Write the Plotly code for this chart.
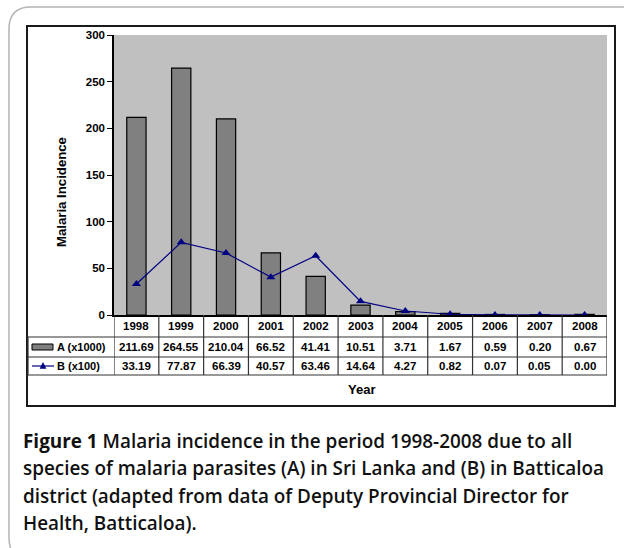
import plotly.graph_objects as go

years = ["1998", "1999", "2000", "2001", "2002", "2003", "2004", "2005", "2006", "2007", "2008"]
series_a = [211.69, 264.55, 210.04, 66.52, 41.41, 10.51, 3.71, 1.67, 0.59, 0.20, 0.67]
series_b = [33.19, 77.87, 66.39, 40.57, 63.46, 14.64, 4.27, 0.82, 0.07, 0.05, 0.00]
label_a = "A (x1000)"
label_b = "B (x100)"
y_title = "Malaria Incidence"
x_title = "Year"
caption_lines = [
    "<b>Figure 1</b> Malaria incidence in the period 1998-2008 due to all",
    "species of malaria parasites (A) in Sri Lanka and (B) in Batticaloa",
    "district (adapted from data of Deputy Provincial Director for",
    "Health, Batticaloa).",
]

W, H = 624, 548
PL, PR, PT, PB = 114, 607, 35, 315  # plot area pixels
pw, ph = PR - PL, PB - PT


def px(x):
    return (x - PL) / pw


def py(y):
    return (PB - y) / ph


ARIAL = "Arial, Liberation Sans, sans-serif"
fig = go.Figure()
fig.add_trace(go.Bar(x=years, y=series_a, name=label_a, marker=dict(color="#808080", line=dict(color="#000000", width=1.2)),
                     showlegend=False))
fig.add_trace(go.Scatter(x=years, y=series_b, name=label_b, mode="lines+markers",
                         line=dict(color="#000080", width=1.2),
                         marker=dict(symbol="triangle-up", size=8, color="#000080"), showlegend=False))

shapes = []
# outer rounded card
r = 22
x0, y0, x1, y1 = px(9), py(7), px(640), py(560)
rx, ry = r / pw, r / ph
shapes.append(dict(type="path", xref="paper", yref="paper",
                   path=f"M {x0} {y1 + ry} L {x0} {y0 - ry} Q {x0} {y0} {x0 + rx} {y0} L {x1} {y0} L {x1} {y1} L {x0 + rx} {y1} Q {x0} {y1} {x0} {y1 + ry} Z",
                   line=dict(color="#b4b4b4", width=1.5), layer="below"))
# chart frame
shapes.append(dict(type="rect", xref="paper", yref="paper", x0=px(27), x1=px(615), y0=py(26), y1=py(406),
                   line=dict(color="#1a1a1a", width=2), layer="below"))
# table horizontal lines
for yy in (337, 357, 375):
    shapes.append(dict(type="line", xref="paper", yref="paper", x0=px(28), x1=px(607), y0=py(yy), y1=py(yy),
                       line=dict(color="#333333", width=1.2)))
# left table edge
shapes.append(dict(type="line", xref="paper", yref="paper", x0=px(28), x1=px(28), y0=py(337), y1=py(375),
                   line=dict(color="#333333", width=1.2)))
# vertical category lines
for i in range(len(years) + 1):
    shapes.append(dict(type="line", xref="x", yref="paper", x0=i - 0.5, x1=i - 0.5, y0=py(315), y1=py(375),
                       line=dict(color="#333333", width=1.2)))
# legend symbols
shapes.append(dict(type="rect", xref="paper", yref="paper", x0=px(32), x1=px(53), y0=py(344), y1=py(350),
                   fillcolor="#808080", line=dict(color="#000000", width=1)))
shapes.append(dict(type="line", xref="paper", yref="paper", x0=px(32), x1=px(54), y0=py(366), y1=py(366),
                   line=dict(color="#000080", width=1.2)))
shapes.append(dict(type="path", xref="paper", yref="paper",
                   path=f"M {px(40)} {py(368.5)} L {px(46)} {py(368.5)} L {px(43)} {py(362.5)} Z",
                   fillcolor="#000080", line=dict(color="#000080", width=0.5)))

ann = []
tf = dict(family=ARIAL, size=11.5, color="#000000", weight="bold")
for i, yr in enumerate(years):
    ann.append(dict(x=i, y=py(326), xref="x", yref="paper", text=yr, showarrow=False, font=tf, yanchor="middle"))
    ann.append(dict(x=i, y=py(347), xref="x", yref="paper", text=f"{series_a[i]:.2f}", showarrow=False, font=tf,
                    yanchor="middle"))
    ann.append(dict(x=i, y=py(366), xref="x", yref="paper", text=f"{series_b[i]:.2f}", showarrow=False, font=tf,
                    yanchor="middle"))
lf = dict(family=ARIAL, size=11, color="#000000", weight="bold")
ann.append(dict(x=px(55), y=py(347), xref="paper", yref="paper", text=label_a, showarrow=False, font=lf,
                xanchor="left", yanchor="middle"))
ann.append(dict(x=px(55), y=py(366), xref="paper", yref="paper", text=label_b, showarrow=False, font=lf,
                xanchor="left", yanchor="middle"))
ann.append(dict(x=px(361), y=py(389), xref="paper", yref="paper", text=x_title, showarrow=False, yanchor="middle",
                font=dict(family=ARIAL, size=13, color="#000000", weight="bold")))
ann.append(dict(x=px(61), y=py(192), xref="paper", yref="paper", text=y_title, showarrow=False, textangle=-90,
                xanchor="center", yanchor="middle",
                font=dict(family=ARIAL, size=13.2, color="#000000", weight="bold")))
for k, line in enumerate(caption_lines):
    ann.append(dict(x=px(21), y=py(441 + k * 27.3), xref="paper", yref="paper", text=line, showarrow=False,
                    xanchor="left", yanchor="middle",
                    font=dict(family="Open Sans, sans-serif", size=18.9, color="#111111", weight=600)))

fig.update_layout(
    width=W, height=H,
    margin=dict(l=PL, r=W - PR, t=PT, b=H - PB, pad=0),
    paper_bgcolor="white", plot_bgcolor="#c0c0c0",
    bargap=0.57,
    shapes=shapes, annotations=ann,
    xaxis=dict(type="category", range=[-0.5, 10.5], showticklabels=False, ticks="", showline=True,
               linecolor="#000000", linewidth=1.5, showgrid=False, zeroline=False, fixedrange=True),
    yaxis=dict(range=[0, 300], dtick=50, ticks="outside", ticklen=5, tickcolor="#000000",
               showline=True, linecolor="#000000", linewidth=1.5, showgrid=False, zeroline=False,
               tickfont=dict(family=ARIAL, size=11.5, color="#000000", weight="bold")),
)
fig.write_html("out.html", config={"displayModeBar": False},
               post_script="document.body.style.margin='0';document.body.style.padding='0';")
